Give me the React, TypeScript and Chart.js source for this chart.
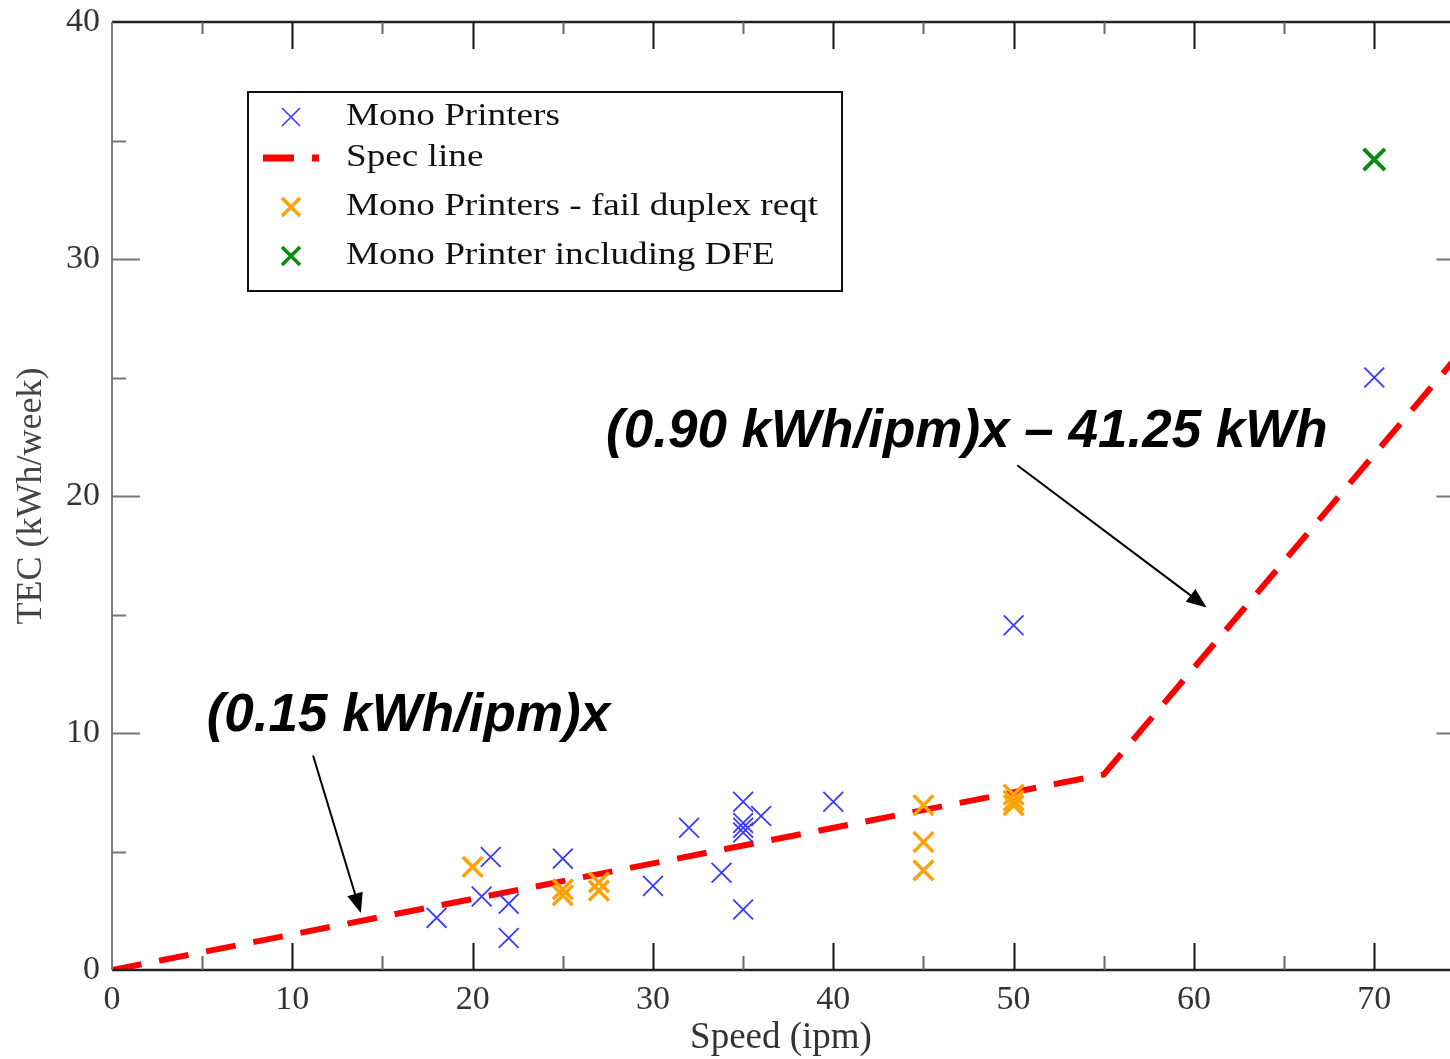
import React, { useEffect, useRef } from "react";
import { Chart, registerables } from "chart.js";

Chart.register(...registerables);

// ---- Data ----
const xTickLabels = [0, 10, 20, 30, 40, 50, 60, 70];
const yTickLabels = [0, 10, 20, 30, 40];
const X_MIN = 0;
const X_MAX = 74.2;
const X_FRAME = 75; // right frame (just beyond the visible area)
const Y_MIN = 0;
const Y_MAX = 40;

const monoX = [18, 20.5, 21, 22, 22, 25, 30, 32, 33.8, 35, 35, 35, 35, 35, 36, 40, 50, 70];
const monoY = [2.2, 3.1, 4.77, 2.8, 1.35, 4.7, 3.55, 6.0, 4.1, 7.1, 6.2, 6.0, 5.8, 2.55, 6.5, 7.1, 14.55, 25.0];

const failX = [20, 25, 25, 27, 27, 45, 45, 45, 50, 50, 50];
const failY = [4.35, 3.4, 3.15, 3.7, 3.35, 6.95, 5.4, 4.2, 7.4, 7.15, 6.95];

const dfeX = [70];
const dfeY = [34.2];

const specX = [0, 55, 75];
const specY = [0, 8.25, 26.25];

const seriesLabels = [
  "Mono Printers",
  "Spec line",
  "Mono Printers - fail duplex reqt",
  "Mono Printer including DFE",
];

// annotations (data coordinates)
const annoHigh = { text: "(0.90 kWh/ipm)x \u2013 41.25 kWh", x: 27.4, y: 22.7 };
const annoLow = { text: "(0.15 kWh/ipm)x", x: 5.25, y: 10.7 };
const arrowHigh = { x1: 50.2, y1: 21.3, x2: 60.7, y2: 15.3 };
const arrowLow = { x1: 11.15, y1: 9.05, x2: 13.8, y2: 2.4 };

const pts = (xs: number[], ys: number[]) => xs.map((x, i) => ({ x, y: ys[i] }));

const BLUE = "#3a3aff";
const RED = "#ff0000";
const ORANGE = "#ffa20a";
const GREEN = "#0b8a12";

const serif = "'Liberation Serif', 'Times New Roman', serif";
const sans = "'Liberation Sans', Arial, sans-serif";

function drawX(ctx: CanvasRenderingContext2D, x: number, y: number, h: number, color: string, w: number) {
  ctx.save();
  ctx.strokeStyle = color;
  ctx.lineWidth = w;
  ctx.lineCap = "butt";
  ctx.beginPath();
  ctx.moveTo(x - h, y - h);
  ctx.lineTo(x + h, y + h);
  ctx.moveTo(x - h, y + h);
  ctx.lineTo(x + h, y - h);
  ctx.stroke();
  ctx.restore();
}

function drawArrow(ctx: CanvasRenderingContext2D, x1: number, y1: number, x2: number, y2: number) {
  const ang = Math.atan2(y2 - y1, x2 - x1);
  const hl = 20;
  const hw = 8;
  const bx = x2 - hl * Math.cos(ang);
  const by = y2 - hl * Math.sin(ang);
  ctx.save();
  ctx.strokeStyle = "#000";
  ctx.fillStyle = "#000";
  ctx.lineWidth = 2;
  ctx.beginPath();
  ctx.moveTo(x1, y1);
  ctx.lineTo(bx, by);
  ctx.stroke();
  ctx.beginPath();
  ctx.moveTo(x2, y2);
  ctx.lineTo(bx + hw * Math.sin(ang), by - hw * Math.cos(ang));
  ctx.lineTo(bx - hw * Math.sin(ang), by + hw * Math.cos(ang));
  ctx.closePath();
  ctx.fill();
  ctx.restore();
}

const framePlugin = {
  id: "framePlugin",
  afterDraw(chart: any) {
    const ctx: CanvasRenderingContext2D = chart.ctx;
    const xs = chart.scales.x;
    const ys = chart.scales.y;
    const L = xs.getPixelForValue(X_MIN);
    const R = xs.getPixelForValue(X_FRAME);
    const B = ys.getPixelForValue(Y_MIN);
    const T = ys.getPixelForValue(Y_MAX);

    ctx.save();
    // frame lines
    ctx.lineCap = "butt";
    ctx.strokeStyle = "#222";
    ctx.lineWidth = 2.5;
    ctx.beginPath();
    ctx.moveTo(L, B);
    ctx.lineTo(R, B);
    ctx.moveTo(L, T);
    ctx.lineTo(R, T);
    ctx.stroke();
    ctx.strokeStyle = "#7a7a7a";
    ctx.lineWidth = 2;
    ctx.beginPath();
    ctx.moveTo(L, T);
    ctx.lineTo(L, B);
    ctx.moveTo(R, T);
    ctx.lineTo(R, B);
    ctx.stroke();

    // x ticks (inward, top and bottom)
    for (let v = 5; v <= X_FRAME - 5; v += 5) {
      const px = Math.round(xs.getPixelForValue(v)) + 0.5;
      const major = v % 10 === 0;
      ctx.strokeStyle = major ? "#111" : "#666";
      ctx.lineWidth = 2;
      ctx.beginPath();
      ctx.moveTo(px, B);
      ctx.lineTo(px, B - (major ? 27 : 14));
      ctx.moveTo(px, T);
      ctx.lineTo(px, T + (major ? 27 : 12));
      ctx.stroke();
    }
    // y ticks (inward, left and right)
    for (let v = 5; v <= Y_MAX - 5; v += 5) {
      const py = Math.round(ys.getPixelForValue(v)) + 0.5;
      const major = v % 10 === 0;
      ctx.strokeStyle = "#777";
      ctx.lineWidth = 2;
      ctx.beginPath();
      ctx.moveTo(L, py);
      ctx.lineTo(L + (major ? 28 : 14), py);
      ctx.moveTo(R, py);
      ctx.lineTo(R - (major ? 28 : 14), py);
      ctx.stroke();
    }

    // legend
    const ds = chart.data.datasets;
    const bx = 248, by = 92, bw = 594, bh = 199;
    ctx.fillStyle = "#fff";
    ctx.fillRect(bx, by, bw, bh);
    ctx.strokeStyle = "#111";
    ctx.lineWidth = 2;
    ctx.strokeRect(bx, by, bw, bh);
    const rows = [117, 158, 207, 256];
    const mx = 291;
    ds.forEach((d: any, i: number) => {
      const ry = rows[i];
      if (i === 1) {
        ctx.save();
        ctx.strokeStyle = d.borderColor;
        ctx.lineWidth = 7;
        ctx.beginPath();
        ctx.moveTo(263, ry);
        ctx.lineTo(294, ry);
        ctx.moveTo(312, ry);
        ctx.lineTo(319, ry);
        ctx.stroke();
        ctx.restore();
      } else {
        drawX(ctx, mx, ry, 9, d.pointBorderColor, i === 0 ? 1.6 : 3.5);
      }
      ctx.save();
      ctx.translate(346, ry);
      ctx.scale(1.2, 1);
      ctx.fillStyle = "#111";
      ctx.font = `31px ${serif}`;
      ctx.textAlign = "left";
      ctx.textBaseline = "middle";
      ctx.fillText(d.label, 0, 0);
      ctx.restore();
    });

    // annotations
    const drawAnno = (a: { text: string; x: number; y: number }) => {
      ctx.save();
      ctx.translate(xs.getPixelForValue(a.x), ys.getPixelForValue(a.y));
      ctx.fillStyle = "#000";
      ctx.font = `italic bold 53px ${sans}`;
      ctx.textAlign = "left";
      ctx.textBaseline = "middle";
      ctx.fillText(a.text, 0, 0);
      ctx.restore();
    };
    drawAnno(annoHigh);
    drawAnno(annoLow);
    [arrowHigh, arrowLow].forEach((a) =>
      drawArrow(
        ctx,
        xs.getPixelForValue(a.x1),
        ys.getPixelForValue(a.y1),
        xs.getPixelForValue(a.x2),
        ys.getPixelForValue(a.y2)
      )
    );
    ctx.restore();
  },
};

const zeroPad = (s: any) => {
  s.paddingTop = 0;
  s.paddingBottom = 0;
  s.paddingLeft = 0;
  s.paddingRight = 0;
};

export default function App() {
  const ref = useRef<HTMLCanvasElement>(null);
  useEffect(() => {
    const canvas = ref.current!;
    const chart = new Chart(canvas, {
      type: "scatter",
      data: {
        datasets: [
          {
            label: seriesLabels[0],
            data: pts(monoX, monoY),
            pointStyle: "crossRot",
            pointRadius: 14,
            pointBorderColor: BLUE,
            pointBackgroundColor: BLUE,
            pointBorderWidth: 1.8,
            borderColor: BLUE,
            showLine: false,
            order: 1,
          },
          {
            label: seriesLabels[1],
            data: pts(specX, specY),
            showLine: true,
            borderColor: RED,
            borderWidth: 6,
            borderDash: [30, 18],
            borderCapStyle: "butt",
            pointRadius: 0,
            fill: false,
            tension: 0,
            order: 3,
          },
          {
            label: seriesLabels[2],
            data: pts(failX, failY),
            pointStyle: "crossRot",
            pointRadius: 14,
            pointBorderColor: ORANGE,
            pointBackgroundColor: ORANGE,
            pointBorderWidth: 3.5,
            borderColor: ORANGE,
            showLine: false,
            order: 2,
          },
          {
            label: seriesLabels[3],
            data: pts(dfeX, dfeY),
            pointStyle: "crossRot",
            pointRadius: 15,
            pointBorderColor: GREEN,
            pointBackgroundColor: GREEN,
            pointBorderWidth: 4,
            borderColor: GREEN,
            showLine: false,
            order: 0,
          },
        ] as any,
      },
      options: {
        animation: false,
        responsive: true,
        maintainAspectRatio: false,
        events: [],
        layout: { autoPadding: false, padding: { top: 22, left: 0, right: 0, bottom: 0 } },
        plugins: {
          legend: { display: false },
          tooltip: { enabled: false },
        },
        scales: {
          x: {
            type: "linear",
            min: X_MIN,
            max: X_MAX,
            grid: { display: false, drawTicks: false },
            border: { display: false },
            afterBuildTicks: (s: any) => {
              s.ticks = xTickLabels.map((v) => ({ value: v }));
            },
            afterFit: (s: any) => {
              s.height = 89;
              zeroPad(s);
            },
            ticks: {
              padding: 10,
              color: "#333",
              font: { family: serif, size: 34 },
              maxRotation: 0,
              autoSkip: false,
              includeBounds: false,
            },
            title: {
              display: true,
              text: "Speed (ipm)",
              color: "#333",
              font: { family: serif, size: 37 },
              padding: { top: 0, bottom: -1 },
            },
          },
          y: {
            type: "linear",
            min: Y_MIN,
            max: Y_MAX,
            grid: { display: false, drawTicks: false },
            border: { display: false },
            afterBuildTicks: (s: any) => {
              s.ticks = yTickLabels.map((v) => ({ value: v }));
            },
            afterFit: (s: any) => {
              s.width = 112;
              zeroPad(s);
            },
            ticks: {
              padding: 12,
              color: "#333",
              font: { family: serif, size: 34 },
              autoSkip: false,
            },
            title: {
              display: true,
              text: "TEC (kWh/week)",
              color: "#444",
              font: { family: serif, size: 36 },
              padding: { top: 10, bottom: 0 },
            },
          },
        },
      } as any,
      plugins: [framePlugin],
    });
    return () => chart.destroy();
  }, []);
  return (
    <div style={{ position: "fixed", left: 0, top: 0, width: 1450, height: 1059, background: "#fff" }}>
      <canvas ref={ref} />
    </div>
  );
}
